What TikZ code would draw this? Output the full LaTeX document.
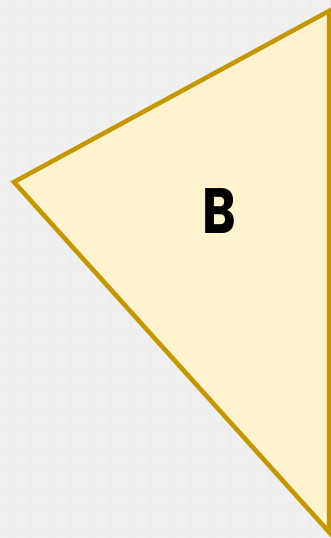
\documentclass[tikz,border=0pt]{standalone}
\usepackage{fontspec}
\newfontfamily\letterfont{Poppins}
\definecolor{fondo}{HTML}{F0F0F0}
\definecolor{rejilla}{HTML}{EBEBEB}
\definecolor{relleno}{HTML}{FFF2CC}
\definecolor{borde}{HTML}{C49600}
\begin{document}
\begin{tikzpicture}[x=1pt, y=-1pt, line width=4.5pt, line cap=round, line join=miter]
  % el fondo con su rejilla
  \fill[fondo] (0,0) rectangle (331,538);
  \useasboundingbox (0,0) rectangle (331,538);
  \foreach \x in {10,30,...,330} { \draw[rejilla, line width=0.5pt] (\x,0) -- (\x,538); }
  \foreach \y in {10,30,...,530} { \draw[rejilla, line width=0.5pt] (0,\y) -- (331,\y); }
  % el triangulo, cortado por el borde derecho
  \begin{scope}
    \clip (0,0) rectangle (331,538);
    \filldraw[fill=relleno, draw=borde] (14,182) -- (329,11) -- (329,532) -- cycle;
  \end{scope}
  % la letra
  \node (letraB) at (219,211) {\scalebox{0.8}[1]{\letterfont\fontsize{64}{64}\selectfont\bfseries B}};
\end{tikzpicture}
\end{document}
